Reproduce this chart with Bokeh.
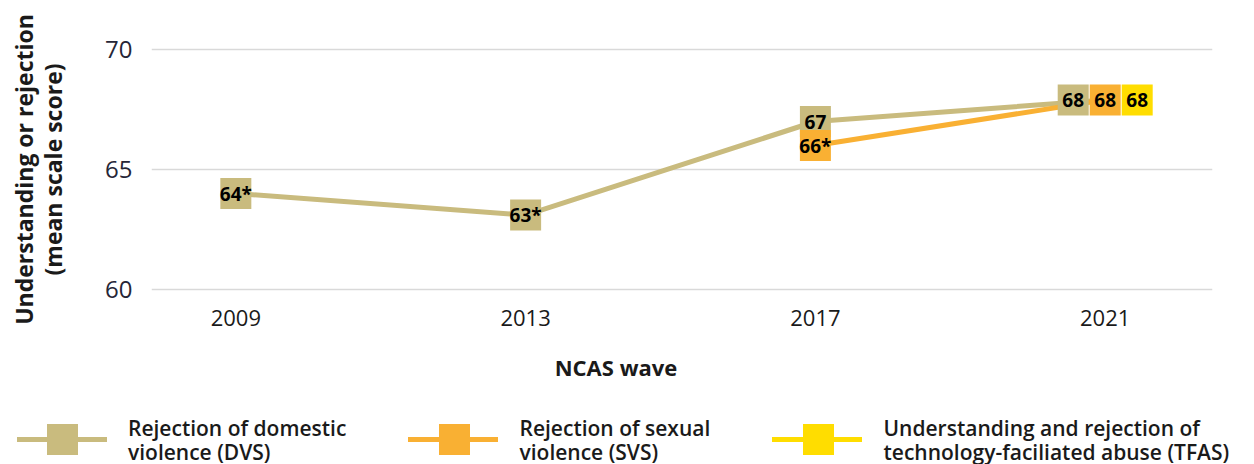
from bokeh.plotting import figure
from bokeh.models import Range1d, FixedTicker, ColumnDataSource, Div
from bokeh.layouts import column
from bokeh.core.properties import value
from bokeh.embed import file_html
from bokeh.resources import INLINE

# ---------------- data ----------------
years = [2009, 2013, 2017, 2021]
dvs_values = [64.0, 63.1, 67.0, 67.9]
dvs_labels = ["64*", "63*", "67", "68"]
svs_years = [2017, 2021]
svs_values = [66.0, 67.9]
svs_labels = ["66*", "68"]
tfas_years = [2021]
tfas_values = [67.9]
tfas_labels = ["68"]
y_ticks = [60, 65, 70]
x_title = "NCAS wave"
y_title = "Understanding or rejection\n(mean scale score)"
series_names = [
    "Rejection of domestic\nviolence (DVS)",
    "Rejection of sexual\nviolence (SVS)",
    "Understanding and rejection of\ntechnology-faciliated abuse (TFAS)",
]

# marker slot shift (in marker widths) so coincident labels sit side by side
dvs_shift = [0, 0, 0, -1]
svs_shift = [0, 0]
tfas_shift = [1]

# ---------------- style ----------------
TAN = "#C9BB7E"
ORANGE = "#F9B033"
YELLOW = "#FFDD00"
colors = [TAN, ORANGE, YELLOW]
FONT_NAME = "Open Sans"
FONT = value(FONT_NAME)

W = 1254
H_PLOT, H_FOOT = 345, 119
LEFT, RIGHT, TOP = 151, 42, 37
BOTTOM = H_PLOT - TOP - 264
X0, X1 = 2007.836, 2022.481
FRAME_W = W - LEFT - RIGHT
px_per_year = FRAME_W / (X1 - X0)
SLOT_PX = 32
slot = SLOT_PX / px_per_year

p = figure(width=W, height=H_PLOT, x_range=Range1d(X0, X1), y_range=Range1d(59.5, 70.5),
           output_backend="svg", toolbar_location=None,
           min_border_left=LEFT, min_border_right=RIGHT,
           min_border_top=TOP, min_border_bottom=BOTTOM)
p.outline_line_color = None
p.background_fill_color = "white"
p.border_fill_color = "white"
p.xgrid.visible = False
p.ygrid.grid_line_color = "#d9d9d9"
p.ygrid.grid_line_width = 1.5

for ax in (p.xaxis[0], p.yaxis[0]):
    ax.axis_line_color = None
    ax.major_tick_line_color = None
    ax.minor_tick_line_color = None
    ax.major_label_text_font = FONT_NAME

p.xaxis.ticker = FixedTicker(ticks=years)
p.xaxis.major_label_text_font_size = "22px"
p.xaxis.major_label_text_color = "#1a1a1a"
p.xaxis.major_label_standoff = 2

p.yaxis.ticker = FixedTicker(ticks=y_ticks)
p.ygrid.ticker = FixedTicker(ticks=y_ticks)
p.yaxis.major_label_text_font_size = "24px"
p.yaxis.major_label_text_color = "#262637"
p.yaxis.major_label_standoff = 13
p.yaxis.axis_label = y_title
p.yaxis.axis_label_text_font = FONT_NAME
p.yaxis.axis_label_text_font_size = "23px"
p.yaxis.axis_label_text_font_style = "bold"
p.yaxis.axis_label_text_color = "#1a1a1a"
p.yaxis.axis_label_text_line_height = 0.9
p.yaxis.axis_label_standoff = 33

# lines
p.line(years, dvs_values, line_color=TAN, line_width=5)
p.line(svs_years, svs_values, line_color=ORANGE, line_width=5)

# squares + labels
def shifted(xs, shifts):
    return [x + s * slot for x, s in zip(xs, shifts)]

groups = [
    (years, dvs_values, dvs_labels, dvs_shift, TAN),
    (svs_years, svs_values, svs_labels, svs_shift, ORANGE),
    (tfas_years, tfas_values, tfas_labels, tfas_shift, YELLOW),
]
for xs, ys, labs, sh, c in groups:
    p.scatter(shifted(xs, sh), ys, marker="square", size=31, fill_color=c, line_color=None)
for xs, ys, labs, sh, c in groups:
    src = ColumnDataSource(dict(x=shifted(xs, sh), y=ys, t=labs))
    p.text("x", "y", text="t", source=src, text_align="center", text_baseline="middle",
           text_font=FONT, text_font_size="19px", text_font_style="bold", text_color="black")

# ---------------- x-axis title + legend strip (HTML) ----------------
leg_starts = [16.5, 408, 772]
parts = [
    f'<div style="position:relative;width:{W}px;height:{H_FOOT}px;'
    f"font-family:'Open Sans',sans-serif;color:#1a1a1a;\">",
    f'<div style="position:absolute;left:0;top:6.5px;width:1232px;text-align:center;'
    f'font-size:22px;font-weight:700;line-height:30px;white-space:nowrap;">{x_title}</div>',
]
for s, c, name in zip(leg_starts, colors, series_names):
    parts.append(f'<div style="position:absolute;left:{s}px;top:91.5px;width:90px;height:5px;'
                 f'background:{c};"></div>')
    parts.append(f'<div style="position:absolute;left:{s + 30.5}px;top:78.5px;width:31px;'
                 f'height:31px;background:{c};"></div>')
    parts.append(f'<div style="position:absolute;left:{s + 111.5}px;top:71px;font-size:21px;'
                 f'font-weight:600;line-height:24px;white-space:nowrap;">'
                 f'{name.replace(chr(10), "<br>")}</div>')
parts.append("</div>")
foot = Div(text="".join(parts), width=W, height=H_FOOT, margin=0)

layout = column(p, foot, spacing=0)
open("out.html", "w").write(file_html(layout, INLINE))
